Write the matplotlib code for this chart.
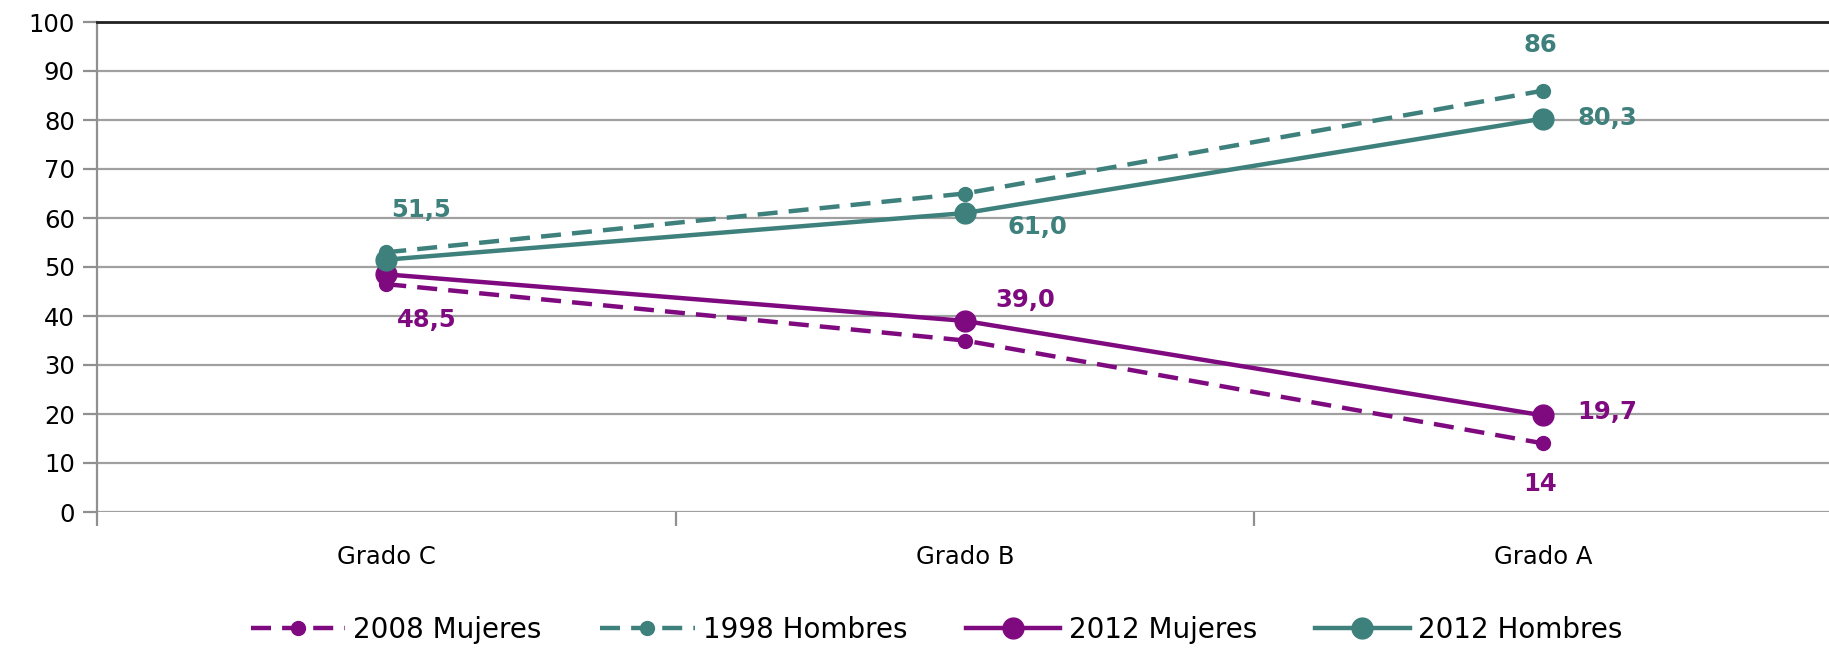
import matplotlib
matplotlib.use("Agg")
import matplotlib.pyplot as plt

categories = ["Grado C", "Grado B", "Grado A"]
mujeres_2008 = [46.5, 35.0, 14.0]
hombres_1998 = [53.0, 65.0, 86.0]
mujeres_2012 = [48.5, 39.0, 19.7]
hombres_2012 = [51.5, 61.0, 80.3]

labels_text = ["51,5", "48,5", "61,0", "39,0", "86", "80,3", "19,7", "14"]
yticks = [0, 10, 20, 30, 40, 50, 60, 70, 80, 90, 100]

PURPLE = "#7F0A80"
TEAL = "#3E807C"

plt.rcParams['font.family'] = ['DejaVu Sans']

fig = plt.figure(figsize=(18.29, 6.49), dpi=100)
ax = fig.add_axes([97/1829, 137/649, 1 - 97/1829 + 0.002, (512-22)/649])

x = list(range(len(categories)))
DASH = (0, (4.5, 2.5))
ax.plot(x, mujeres_2008, color=PURPLE, lw=3.2, ls=DASH, marker='o', ms=10,
        label="2008 Mujeres", zorder=3)
ax.plot(x, hombres_1998, color=TEAL, lw=3.2, ls=DASH, marker='o', ms=10,
        mec=TEAL, label="1998 Hombres", zorder=3)
ax.plot(x, mujeres_2012, color=PURPLE, lw=3.2, marker='o', ms=15,
        label="2012 Mujeres", zorder=4)
ax.plot(x, hombres_2012, color=TEAL, lw=3.2, marker='o', ms=15,
        label="2012 Hombres", zorder=4)

# data label positions (x, y in data units) and colours
label_specs = [
    (0.06, 61.6, TEAL),
    (0.07, 39.2, PURPLE),
    (1.125, 58.2, TEAL),
    (1.105, 43.3, PURPLE),
    (1.995, 95.3, TEAL),
    (2.11, 80.4, TEAL),
    (2.11, 20.4, PURPLE),
    (1.995, 5.7, PURPLE),
]
for txt, (lx, ly, col) in zip(labels_text, label_specs):
    ax.text(lx, ly, txt, color=col, fontsize=17.5, fontweight='bold',
            ha='center', va='center', zorder=5)

ax.set_xlim(-0.5, 2.5)
ax.set_ylim(0, 100)
ax.set_yticks(yticks)
ax.set_yticklabels([str(v) for v in yticks], fontsize=17.5)
ax.yaxis.grid(True, color='#A0A0A0', lw=1.6, zorder=0)
ax.set_axisbelow(True)

ax.set_xticks(x)
ax.set_xticklabels(categories, fontsize=17.5)
ax.set_xticks([-0.5, 0.5, 1.5, 2.5], minor=True)
ax.tick_params(axis='x', which='major', length=0, pad=24)
ax.tick_params(axis='x', which='minor', length=10, color='#909090', width=1.6)
ax.tick_params(axis='y', length=10, color='#909090', width=1.6, pad=6)

for s in ['right', 'bottom']:
    ax.spines[s].set_visible(False)
ax.spines['left'].set_color('#909090')
ax.spines['left'].set_linewidth(1.6)
ax.spines['top'].set_color('#222222')
ax.spines['top'].set_linewidth(2)

leg = fig.legend(loc='center', bbox_to_anchor=(0.512, 0.029), ncol=4, frameon=False,
                 fontsize=20, handlelength=3.4, columnspacing=2.1, handletextpad=0.3)

fig.savefig("out.png", dpi=100)
